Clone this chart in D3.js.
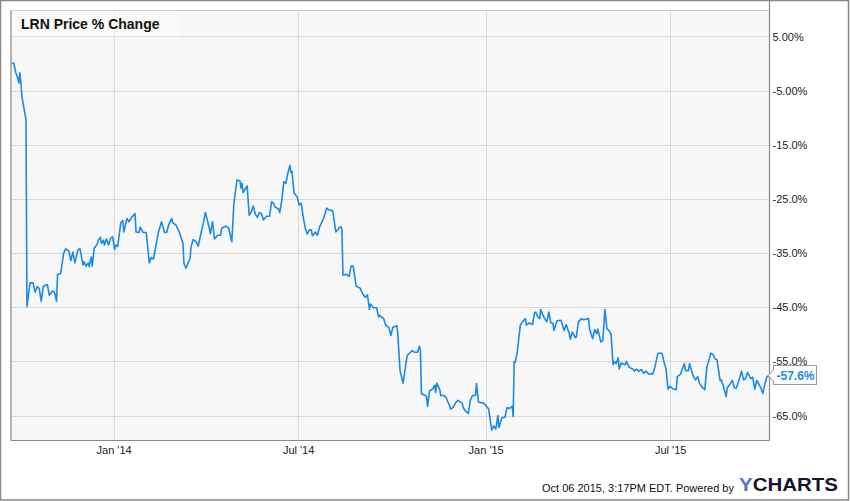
<!DOCTYPE html>
<html>
<head>
<meta charset="utf-8">
<script src="https://cdn.jsdelivr.net/npm/d3@7/dist/d3.min.js"></script>
<style>
  html, body { margin: 0; padding: 0; background: #fff; }
  svg { display: block; }
  text { font-family: "Liberation Sans", Arial, sans-serif; }
</style>
</head>
<body>
<svg id="chart" width="850" height="501"></svg>
<script>
const title = "LRN Price % Change";
const footerText = "Oct 06 2015, 3:17PM EDT.  Powered by";
const lastLabel = "-57.6%";

const yTickValues = [5, -5, -15, -25, -35, -45, -55, -65];
const yTickLabels = ["5.00%", "-5.00%", "-15.0%", "-25.0%", "-35.0%", "-45.0%", "-55.0%", "-65.0%"];
const xTickDates = ["2014-01-01", "2014-07-01", "2015-01-01", "2015-07-01"];
const xTickLabels = ["Jan '14", "Jul '14", "Jan '15", "Jul '15"];

const dates = [
"2013-09-23","2013-09-25","2013-09-27","2013-09-29","2013-09-30","2013-10-01","2013-10-02","2013-10-03","2013-10-05","2013-10-07",
"2013-10-08","2013-10-11","2013-10-14","2013-10-16","2013-10-18","2013-10-20","2013-10-22","2013-10-24","2013-10-28","2013-10-30",
"2013-11-02","2013-11-04","2013-11-06","2013-11-07","2013-11-10","2013-11-13","2013-11-15","2013-11-18","2013-11-20","2013-11-22",
"2013-11-24","2013-11-27","2013-11-29","2013-12-02","2013-12-03","2013-12-05","2013-12-07","2013-12-08","2013-12-10","2013-12-11",
"2013-12-13","2013-12-16","2013-12-17","2013-12-19","2013-12-20","2013-12-22","2013-12-23","2013-12-25","2013-12-27","2013-12-29",
"2013-12-31","2014-01-02","2014-01-03","2014-01-05","2014-01-08","2014-01-10","2014-01-11","2014-01-14","2014-01-16","2014-01-19",
"2014-01-22","2014-01-23","2014-01-26","2014-01-27","2014-01-30","2014-02-02","2014-02-05","2014-02-07","2014-02-09","2014-02-11",
"2014-02-14","2014-02-17","2014-02-20","2014-02-22","2014-02-24","2014-02-27","2014-02-28","2014-03-03","2014-03-06","2014-03-10",
"2014-03-11","2014-03-13","2014-03-17","2014-03-18","2014-03-20","2014-03-23","2014-03-25","2014-03-28","2014-03-30","2014-04-01",
"2014-04-03","2014-04-06","2014-04-08","2014-04-10","2014-04-13","2014-04-16","2014-04-17","2014-04-21","2014-04-24","2014-04-27",
"2014-04-29","2014-05-02","2014-05-05","2014-05-06","2014-05-07","2014-05-08","2014-05-12","2014-05-14","2014-05-16","2014-05-18",
"2014-05-20","2014-05-22","2014-05-24","2014-05-26","2014-05-28","2014-05-31","2014-06-03","2014-06-05","2014-06-07","2014-06-08",
"2014-06-12","2014-06-13","2014-06-15","2014-06-17","2014-06-19","2014-06-21","2014-06-23","2014-06-24","2014-06-25","2014-06-27",
"2014-06-30","2014-07-02","2014-07-04","2014-07-06","2014-07-08","2014-07-10","2014-07-12","2014-07-14","2014-07-15","2014-07-18",
"2014-07-20","2014-07-22","2014-07-26","2014-07-29","2014-07-31","2014-08-04","2014-08-07","2014-08-10","2014-08-12","2014-08-13",
"2014-08-14","2014-08-17","2014-08-20","2014-08-22","2014-08-24","2014-08-27","2014-08-31","2014-09-02","2014-09-05","2014-09-07",
"2014-09-09","2014-09-10","2014-09-13","2014-09-16","2014-09-18","2014-09-19","2014-09-21","2014-09-23","2014-09-25","2014-09-28",
"2014-09-30","2014-10-02","2014-10-06","2014-10-07","2014-10-09","2014-10-12","2014-10-16","2014-10-21","2014-10-23","2014-10-26",
"2014-10-28","2014-10-29","2014-10-30","2014-11-03","2014-11-04","2014-11-05","2014-11-07","2014-11-10","2014-11-12","2014-11-13",
"2014-11-14","2014-11-17","2014-11-18","2014-11-21","2014-11-23","2014-11-25","2014-11-28","2014-11-30","2014-12-03","2014-12-05",
"2014-12-09","2014-12-10","2014-12-12","2014-12-15","2014-12-17","2014-12-19","2014-12-22","2014-12-23","2014-12-25","2014-12-30",
"2015-01-04","2015-01-06","2015-01-07","2015-01-09","2015-01-11","2015-01-13","2015-01-14","2015-01-17","2015-01-20","2015-01-22",
"2015-01-24","2015-01-27","2015-01-28","2015-01-29","2015-01-30","2015-02-01","2015-02-04","2015-02-07","2015-02-09","2015-02-10",
"2015-02-13","2015-02-16","2015-02-18","2015-02-19","2015-02-21","2015-02-23","2015-02-24","2015-02-27","2015-02-28","2015-03-02",
"2015-03-04","2015-03-06","2015-03-08","2015-03-09","2015-03-12","2015-03-16","2015-03-18","2015-03-19","2015-03-21","2015-03-24",
"2015-03-25","2015-03-27","2015-03-30","2015-03-31","2015-04-02","2015-04-05","2015-04-07","2015-04-12","2015-04-13","2015-04-16",
"2015-04-18","2015-04-20","2015-04-21","2015-04-24","2015-04-26","2015-04-28","2015-04-30","2015-05-02","2015-05-04","2015-05-06",
"2015-05-07","2015-05-09","2015-05-11","2015-05-12","2015-05-14","2015-05-18","2015-05-19","2015-05-22","2015-05-26","2015-05-27",
"2015-05-29","2015-05-31","2015-06-03","2015-06-05","2015-06-07","2015-06-10","2015-06-14","2015-06-16","2015-06-19","2015-06-23",
"2015-06-25","2015-06-27","2015-06-29","2015-07-01","2015-07-04","2015-07-07","2015-07-08","2015-07-11","2015-07-13","2015-07-15",
"2015-07-16","2015-07-19","2015-07-20","2015-07-22","2015-07-24","2015-07-26","2015-07-28","2015-07-30","2015-08-02","2015-08-04",
"2015-08-06","2015-08-08","2015-08-10","2015-08-12","2015-08-14","2015-08-16","2015-08-19","2015-08-20","2015-08-22","2015-08-25",
"2015-08-26","2015-08-29","2015-08-31","2015-09-02","2015-09-04","2015-09-07","2015-09-09","2015-09-11","2015-09-13","2015-09-15",
"2015-09-18","2015-09-20","2015-09-22","2015-09-24","2015-09-25","2015-09-28","2015-09-30","2015-10-02","2015-10-04","2015-10-06"
];

const pctChange = [
0.0,0.1,-1.7,-2.7,-3.6,-1.7,-3.6,-6.1,-8.2,-10.4,
-44.9,-40.5,-40.5,-42.2,-41.2,-41.5,-43.9,-41.1,-40.8,-42.8,
-42.0,-42.2,-43.9,-38.9,-38.8,-35.0,-34.2,-34.6,-36.4,-34.8,
-36.8,-34.4,-34.2,-37.2,-36.6,-37.4,-36.8,-37.5,-35.7,-37.4,
-34.1,-33.3,-32.6,-32.1,-33.2,-32.6,-33.5,-32.4,-33.5,-32.3,
-32.0,-34.3,-33.5,-33.8,-29.4,-29.0,-31.1,-28.6,-29.2,-28.3,
-27.7,-31.1,-31.2,-30.2,-31.2,-31.2,-36.8,-35.8,-36.1,-34.1,
-31.1,-29.2,-31.2,-31.2,-29.8,-28.6,-29.4,-29.8,-30.9,-33.2,
-36.9,-37.8,-36.0,-33.8,-32.5,-32.9,-33.7,-31.1,-29.5,-27.5,
-28.9,-31.4,-29.2,-32.4,-31.7,-31.7,-30.4,-30.0,-30.4,-32.9,
-25.8,-21.5,-21.7,-23.0,-22.1,-23.8,-22.6,-28.0,-27.4,-26.3,
-27.8,-28.4,-27.5,-27.7,-28.9,-28.2,-28.2,-25.5,-25.8,-26.4,
-26.9,-27.5,-25.2,-21.8,-22.1,-20.2,-18.8,-20.1,-19.9,-23.9,
-24.6,-26.1,-25.8,-28.3,-30.4,-31.5,-30.7,-30.7,-31.8,-31.1,
-31.7,-30.2,-28.6,-26.7,-27.0,-27.2,-31.1,-30.4,-30.1,-30.6,
-39.1,-38.9,-39.3,-37.4,-37.4,-41.1,-41.5,-42.4,-43.2,-42.7,
-45.4,-44.4,-45.1,-45.1,-46.8,-46.5,-46.8,-47.1,-48.3,-48.7,
-50.2,-48.7,-48.4,-50.5,-56.7,-59.0,-53.9,-53.0,-53.3,-53.3,
-52.2,-53.0,-61.0,-61.3,-61.5,-63.3,-60.4,-60.1,-59.4,-60.7,
-59.0,-60.2,-61.3,-61.3,-61.6,-62.5,-63.8,-63.5,-62.5,-62.2,
-62.7,-63.5,-64.1,-64.6,-62.2,-61.3,-61.3,-59.1,-62.5,-62.7,
-63.8,-66.5,-67.7,-66.9,-67.5,-65.0,-67.2,-65.4,-65.3,-63.5,
-63.7,-63.3,-65.2,-55.0,-55.2,-53.3,-48.3,-47.5,-47.1,-48.3,
-47.9,-48.2,-46.0,-45.9,-46.7,-47.1,-45.4,-46.8,-47.1,-47.7,
-45.9,-47.9,-47.9,-49.3,-47.5,-47.4,-48.7,-49.3,-48.2,-49.8,
-50.9,-49.6,-50.6,-50.5,-47.7,-47.1,-47.3,-47.1,-49.0,-50.8,
-49.1,-49.9,-49.0,-51.4,-51.1,-45.4,-49.0,-49.3,-49.9,-55.6,
-55.0,-55.4,-54.3,-56.4,-55.3,-55.6,-55.0,-56.1,-56.5,-56.8,
-56.4,-56.8,-56.5,-57.2,-56.8,-57.3,-57.3,-56.1,-53.5,-53.5,
-55.1,-56.4,-60.1,-59.6,-60.1,-60.2,-57.8,-57.4,-56.4,-55.4,
-56.7,-56.7,-55.4,-56.7,-57.9,-58.4,-57.8,-59.1,-59.9,-60.2,
-56.1,-54.8,-53.5,-53.7,-54.5,-54.7,-58.5,-58.4,-59.4,-61.5,
-59.9,-59.1,-58.5,-59.9,-59.9,-58.2,-56.8,-58.4,-58.2,-57.0,
-58.2,-57.9,-60.1,-58.5,-58.8,-59.9,-60.9,-59.1,-57.8,-57.6
];

const parse = d3.timeParse("%Y-%m-%d");
const data = dates.map((d, i) => ({ date: parse(d), value: pctChange[i] }));

const W = 850, H = 501;
const plot = { left: 11, top: 10.5, right: 769.5, bottom: 440.5 };

const svg = d3.select("#chart");

// outer border
svg.append("rect").attr("x", 0.5).attr("y", 0.5).attr("width", W - 2).attr("height", H - 1.5)
  .attr("fill", "#fff").attr("stroke", "#888").attr("stroke-width", 1.5);

const x = d3.scaleTime()
  .domain([parse(dates[0]), parse(dates[dates.length - 1])])
  .range([11.7, 769]);
const y = d3.scaleLinear().domain([-69.6, 9.8]).range([plot.bottom, plot.top]);

// plot background
svg.append("rect").attr("x", plot.left).attr("y", plot.top)
  .attr("width", plot.right - plot.left).attr("height", plot.bottom - plot.top)
  .attr("fill", "#f7f7f7");

// grid lines
const grid = svg.append("g");
grid.selectAll("line.h").data(yTickValues).enter().append("line")
  .attr("x1", plot.left).attr("x2", plot.right)
  .attr("y1", d => Math.round(y(d)) + 0.5).attr("y2", d => Math.round(y(d)) + 0.5)
  .attr("stroke", "#d8d8d8").attr("stroke-width", 1);
grid.selectAll("line.v").data(xTickDates).enter().append("line")
  .attr("x1", d => Math.round(x(parse(d))) + 0.5).attr("x2", d => Math.round(x(parse(d))) + 0.5)
  .attr("y1", plot.top).attr("y2", plot.bottom)
  .attr("stroke", "#d8d8d8").attr("stroke-width", 1);

// title box
svg.append("rect").attr("x", plot.left + 0.5).attr("y", plot.top + 0.5)
  .attr("width", 168).attr("height", 25.5)
  .attr("fill", "#fbfbfb").attr("fill-opacity", 0.6);
svg.append("text").attr("x", 21).attr("y", 29)
  .attr("font-size", 14).attr("font-weight", "bold").attr("fill", "#111")
  .text(title);

// line
const line = d3.line().x(d => x(d.date)).y(d => y(d.value));
svg.append("path").datum(data)
  .attr("d", line).attr("fill", "none")
  .attr("stroke", "#1a8ae6").attr("stroke-width", 1.6)
  .attr("stroke-linejoin", "round");

// plot borders
svg.append("line").attr("x1", plot.left).attr("x2", plot.right).attr("y1", plot.top).attr("y2", plot.top)
  .attr("stroke", "#cfcfcf");
svg.append("line").attr("x1", plot.left).attr("x2", plot.left).attr("y1", plot.top).attr("y2", plot.bottom)
  .attr("stroke", "#888").attr("stroke-width", 1.2);
svg.append("line").attr("x1", plot.right).attr("x2", plot.right).attr("y1", 0).attr("y2", plot.bottom)
  .attr("stroke", "#888").attr("stroke-width", 1.2);
svg.append("line").attr("x1", plot.left).attr("x2", plot.right).attr("y1", plot.bottom).attr("y2", plot.bottom)
  .attr("stroke", "#888").attr("stroke-width", 1.2);

// y axis (right) via d3 axis
const yAxis = d3.axisRight(y).tickValues(yTickValues)
  .tickFormat((d, i) => yTickLabels[i]).tickSize(0).tickPadding(3);
const gy = svg.append("g").attr("transform", `translate(${plot.right},0)`).call(yAxis);
gy.select(".domain").remove();
gy.selectAll("text").attr("font-size", 11).attr("fill", "#222")
  .attr("font-family", "'Liberation Sans', Arial, sans-serif");

// x axis
const xAxis = d3.axisBottom(x).tickValues(xTickDates.map(parse))
  .tickFormat((d, i) => xTickLabels[i]).tickSize(0).tickPadding(6);
const gx = svg.append("g").attr("transform", `translate(0,${plot.bottom})`).call(xAxis);
gx.select(".domain").remove();
gx.selectAll("text").attr("font-size", 11).attr("fill", "#222")
  .attr("font-family", "'Liberation Sans', Arial, sans-serif");

// last value label
const last = data[data.length - 1];
const ly = y(last.value);
const lx = plot.right + 4;
svg.append("path")
  .attr("d", `M${lx},${ly - 6} L${plot.right - 1},${ly} L${lx},${ly + 6} Z`)
  .attr("fill", "#fff").attr("stroke", "#999");
svg.append("rect").attr("x", lx).attr("y", ly - 10).attr("width", 43).attr("height", 19)
  .attr("fill", "#fff").attr("stroke", "#999");
svg.append("rect").attr("x", lx - 0.5).attr("y", ly - 5).attr("width", 2).attr("height", 10).attr("fill", "#fff");
svg.append("text").attr("x", lx + 3).attr("y", ly + 4.5)
  .attr("font-size", 12).attr("font-weight", "bold").attr("fill", "#1a8ae6")
  .text(lastLabel);

// footer
svg.append("text").attr("x", 734).attr("y", 492).attr("text-anchor", "end")
  .attr("font-size", 11).attr("fill", "#111").text(footerText);
const logo = svg.append("text").attr("x", 739).attr("y", 491)
  .attr("font-size", 18).attr("font-weight", "900")
  .attr("font-family", "'DejaVu Sans', 'Liberation Sans', sans-serif")
  .attr("textLength", 99).attr("lengthAdjust", "spacingAndGlyphs");
logo.append("tspan").attr("fill", "#5577c0").text("Y");
logo.append("tspan").attr("fill", "#15152a").text("CHARTS");
</script>
</body>
</html>
